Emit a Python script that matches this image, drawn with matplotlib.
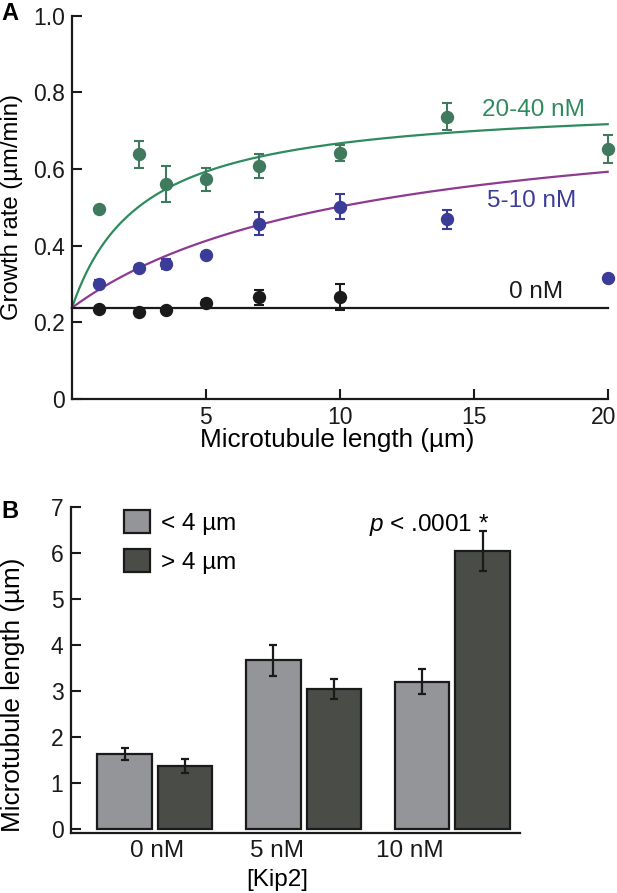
import numpy as np
import matplotlib
matplotlib.use("Agg")
import matplotlib.pyplot as plt
from matplotlib.patches import Patch
from matplotlib.transforms import ScaledTranslation

plt.rcParams['font.family'] = ['Liberation Sans', 'DejaVu Sans']
plt.rcParams['mathtext.fontset'] = 'custom'
plt.rcParams['mathtext.it'] = 'Liberation Sans:italic'
plt.rcParams['mathtext.rm'] = 'Liberation Sans'

# ---------------- Panel A data ----------------
length_um = [1, 2.5, 3.5, 5, 7, 10, 14, 20]
green_rate = [0.496, 0.638, 0.560, 0.573, 0.608, 0.642, 0.736, 0.652]
green_err = [0.0, 0.036, 0.047, 0.030, 0.032, 0.020, 0.035, 0.037]
blue_rate = [0.301, 0.341, 0.352, 0.375, 0.457, 0.502, 0.469, 0.315]
blue_err = [0.010, 0.008, 0.012, 0.008, 0.030, 0.032, 0.025, 0.0]
black_length = [1, 2.5, 3.5, 5, 7, 10]
black_rate = [0.235, 0.226, 0.231, 0.251, 0.265, 0.266]
black_err = [0.0, 0.0, 0.0, 0.006, 0.020, 0.035]
baseline_rate = 0.238
# hyperbolic fit parameters: rate = base + amp * L / (K + L)
green_fit = (0.238, 0.542, 2.63)
purple_fit = (0.238, 0.541, 10.5)

# ---------------- Panel B data ----------------
kip2_labels = ['0 nM', '5 nM', '10 nM']
short_mt = [1.627, 3.666, 3.203]
short_err = [0.13, 0.34, 0.27]
long_mt = [1.374, 3.051, 6.037]
long_err = [0.15, 0.217, 0.43]
legend_labels = ['< 4 µm', '> 4 µm']

W, H = 617, 893
fig = plt.figure(figsize=(W / 100, H / 100), dpi=100)

FS_TICK = 16.5
FS_TXT = 17.5
FS_LAB = 18.8
c_green_pt = '#3f7a5e'
c_green_ln = '#2e8b5e'
c_blue = '#3b3c98'
c_purple = '#8e3a90'
c_black = '#1a1a1a'

# ---------------- Panel A ----------------
axA = fig.add_axes([72 / W, 1 - 399 / H, (607.7 - 72) / W, (399 - 15.7) / H])
xs = np.linspace(0, 20, 300)
for (b, a, k), col in [(green_fit, c_green_ln), (purple_fit, c_purple)]:
    axA.plot(xs, b + a * xs / (k + xs), color=col, lw=1.6, clip_on=False)
axA.plot([0, 20], [baseline_rate, baseline_rate], color=c_black, lw=1.6, clip_on=False)

def errplot(ax, x, y, e, col):
    ax.errorbar(x, y, yerr=e, fmt='o', color=col, ms=8.6, elinewidth=1.5,
                capsize=3.4, capthick=1.5, clip_on=False, zorder=3)

errplot(axA, length_um, green_rate, green_err, c_green_pt)
errplot(axA, length_um, blue_rate, blue_err, c_blue)
errplot(axA, black_length, black_rate, black_err, c_black)

axA.set_xlim(0, 20)
axA.set_ylim(0, 1.0)
axA.set_xticks([5, 10, 15, 20])
axA.set_yticks([0, 0.2, 0.4, 0.6, 0.8, 1.0])
axA.set_yticklabels(['0', '0.2', '0.4', '0.6', '0.8', '1.0'])
for s in ['top', 'right']:
    axA.spines[s].set_visible(False)
for s in ['left', 'bottom']:
    axA.spines[s].set_linewidth(1.6)
    axA.spines[s].set_color(c_black)
axA.tick_params(direction='in', length=7, width=1.5, labelsize=FS_TICK, colors=c_black)
axA.tick_params(axis='y', pad=5.3)
axA.tick_params(axis='x', pad=4.8)
# keep the last tick label inside the figure edge
lab20 = axA.get_xticklabels()[-1]
lab20.set_transform(lab20.get_transform() + ScaledTranslation(-4 / 100, 0, fig.dpi_scale_trans))

axA.text(15.3, 0.754, '20-40 nM', color=c_green_ln, fontsize=FS_TXT, va='center', ha='left')
axA.text(15.5, 0.516, '5-10 nM', color=c_blue, fontsize=FS_TXT, va='center', ha='left')
axA.text(16.3, 0.279, '0 nM', color=c_black, fontsize=FS_TXT, va='center', ha='left')

fig.text(337 / W, 1 - 440 / H, 'Microtubule length (µm)', fontsize=FS_LAB, ha='center', va='center')
fig.text(12 / W, 1 - 207 / H, 'Growth rate (µm/min)', fontsize=17.2, ha='center', va='center', rotation=90)
fig.text(1.0 / W, 1 - 20 / H, 'A', fontsize=17, fontweight='bold', ha='left', va='baseline')

# ---------------- Panel B ----------------
axB = fig.add_axes([70.8 / W, 1 - 832.7 / H, (520 - 70.8) / W, (832.7 - 506.7) / H])
grp = np.arange(len(kip2_labels))
bw = 0.365
off = 0.203
c_light = '#939598'
c_dark = '#494c47'
axB.bar(grp - off, short_mt, bw, color=c_light, edgecolor='#1a1a1a', lw=1.6, label=legend_labels[0], zorder=2)
axB.bar(grp + off, long_mt, bw, color=c_dark, edgecolor='#1a1a1a', lw=1.6, label=legend_labels[1], zorder=2)
axB.errorbar(grp - off, short_mt, yerr=short_err, fmt='none', ecolor='#1a1a1a', elinewidth=1.6, capsize=2.8, capthick=1.6, zorder=3)
axB.errorbar(grp + off, long_mt, yerr=long_err, fmt='none', ecolor='#1a1a1a', elinewidth=1.6, capsize=2.8, capthick=1.6, zorder=3)

axB.set_xlim(-0.5645, 2.454)
axB.set_ylim(-0.074, 7)
axB.set_yticks(range(0, 8))
axB.set_xticks([0.012, 0.82, 1.715])
axB.set_xticklabels(kip2_labels)
for s in ['top', 'right']:
    axB.spines[s].set_visible(False)
for s in ['left', 'bottom']:
    axB.spines[s].set_linewidth(1.6)
    axB.spines[s].set_color(c_black)
axB.tick_params(axis='y', direction='in', length=7, width=1.5, labelsize=FS_TICK, pad=5.3, colors=c_black)
axB.tick_params(axis='x', length=0, labelsize=FS_TXT, pad=5.5, colors=c_black)

handles = [Patch(facecolor=c_light, edgecolor='#1a1a1a', lw=1.6),
           Patch(facecolor=c_dark, edgecolor='#1a1a1a', lw=1.6)]
axB.legend(handles, legend_labels, loc='upper left', bbox_to_anchor=(0.1184, 0.99),
           frameon=False, fontsize=FS_TXT, borderaxespad=0, borderpad=0,
           handlelength=1.05, handleheight=1.1, handletextpad=0.48, labelspacing=0.58)

axB.text(1.44, 6.60, r'$\it{p}$' + ' < .0001 *', fontsize=FS_TXT, ha='left', va='center')

fig.text(277 / W, 1 - 880 / H, '[Kip2]', fontsize=FS_TXT, ha='center', va='center')
fig.text(13 / W, 1 - 694.5 / H, 'Microtubule length (µm)', fontsize=FS_LAB, ha='center', va='center', rotation=90)
fig.text(1.0 / W, 1 - 518 / H, 'B', fontsize=17, fontweight='bold', ha='left', va='baseline')

fig.savefig('out.png', dpi=100)
